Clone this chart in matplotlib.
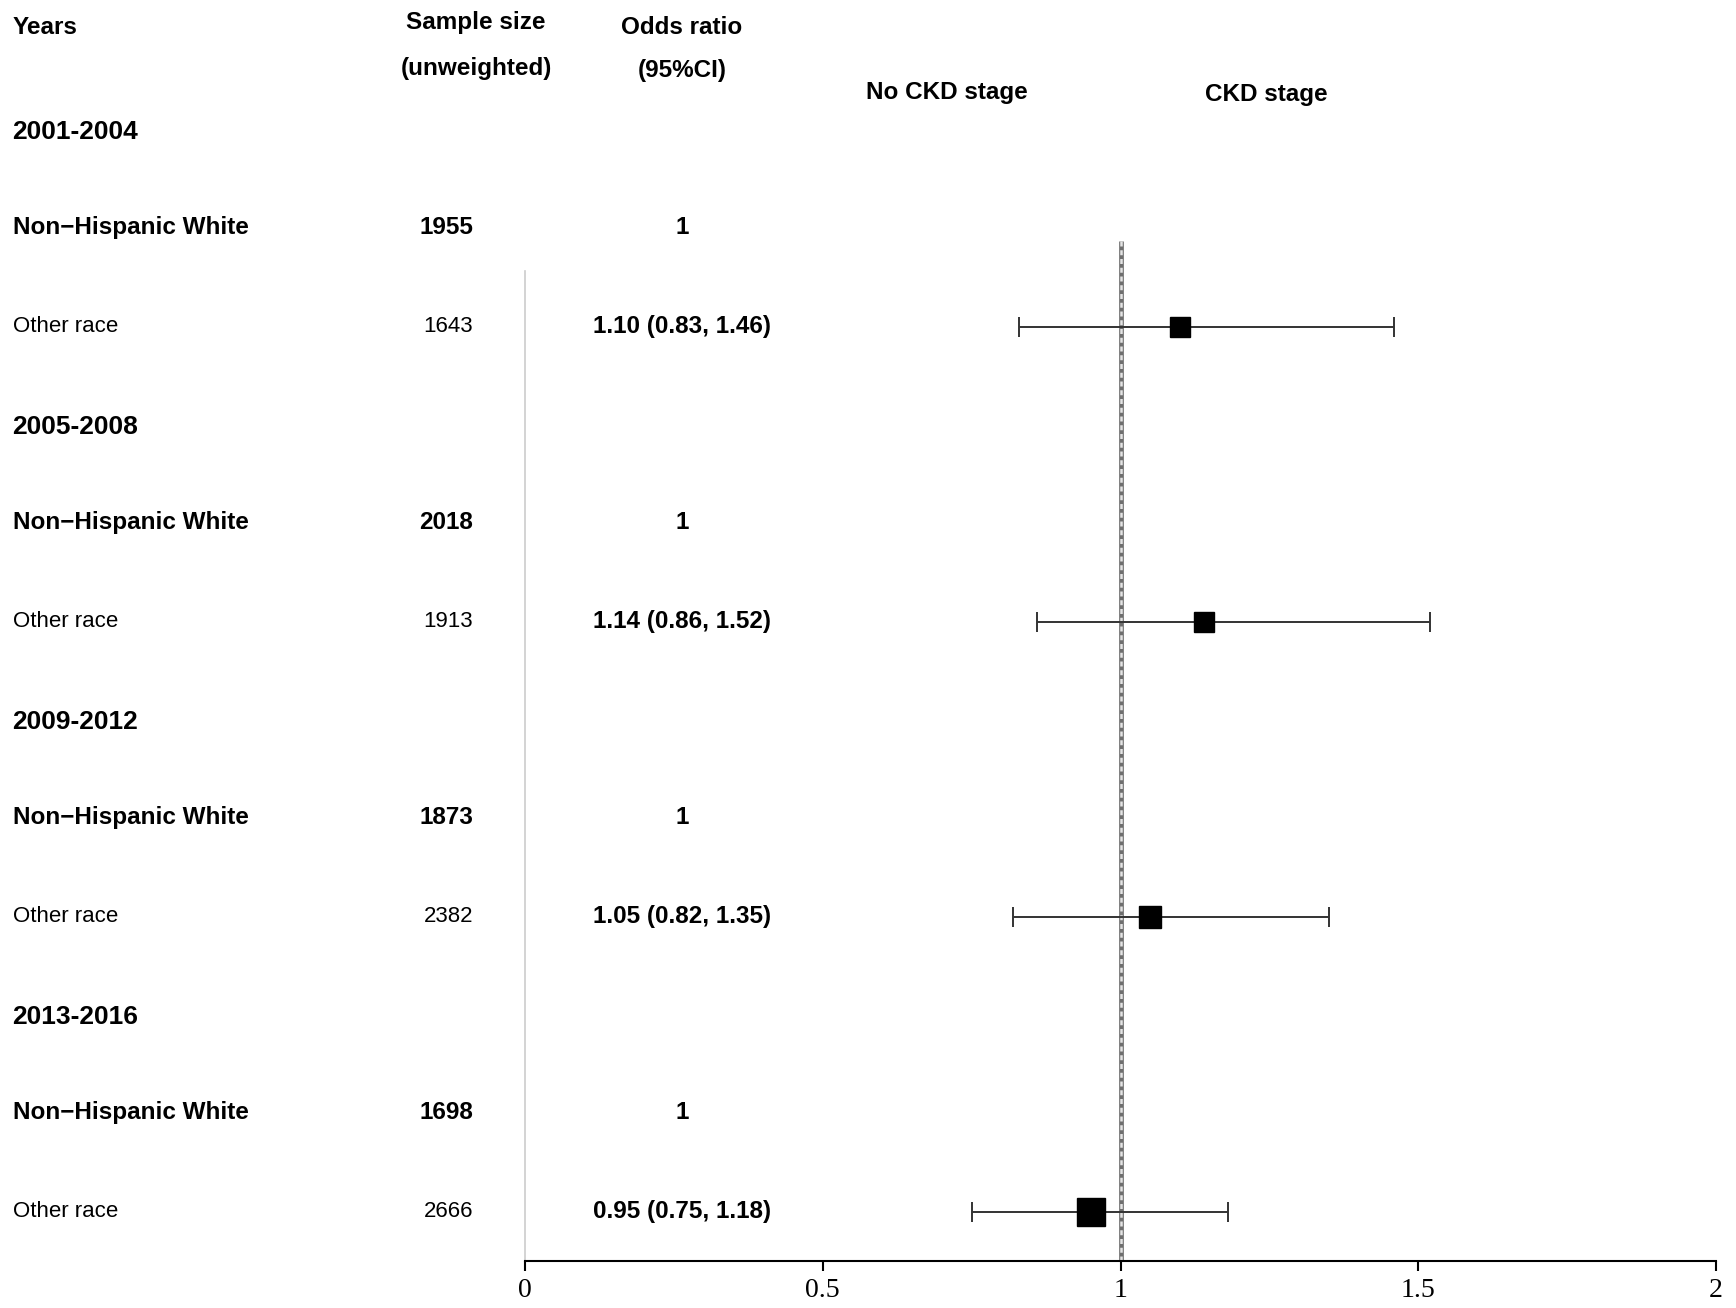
import matplotlib
matplotlib.use("Agg")
import matplotlib.pyplot as plt
import matplotlib.transforms as mtransforms

# ---------------- data ----------------
periods = ["2001-2004", "2005-2008", "2009-2012", "2013-2016"]
ref_label = "Non\u2212Hispanic White"
cmp_label = "Other race"
n_white = [1955, 2018, 1873, 1698]
n_other = [1643, 1913, 2382, 2666]
or_est = [1.10, 1.14, 1.05, 0.95]
or_low = [0.83, 0.86, 0.82, 0.75]
or_high = [1.46, 1.52, 1.35, 1.18]
x_ticks = [0, 0.5, 1, 1.5, 2]
x_tick_labels = ["0", "0.5", "1", "1.5", "2"]

# ---------------- style ----------------
W, H, DPI = 1736, 1308, 100
box_px = [20, 20, 23, 27]
FS_B = 17.5
FS_Y = 19
FS_R = 16
FONT = ["Liberation Sans", "DejaVu Sans"]
plt.rcParams["font.family"] = FONT

fig = plt.figure(figsize=(W / DPI, H / DPI), dpi=DPI)

x0_px, x1_px = 525, 1716
axis_px = 1261
row0_px, row_step = 130.4, 98.3
ytop = (0 - row0_px) / row_step
ybot = (axis_px - row0_px) / row_step

ax = fig.add_axes([x0_px / W, (H - axis_px) / H, (x1_px - x0_px) / W, axis_px / H])
ax.set_xlim(0, 2)
ax.set_ylim(ybot, ytop)
for s in ["top", "right", "left"]:
    ax.spines[s].set_visible(False)
ax.spines["bottom"].set_linewidth(1.5)
ax.set_yticks([])
ax.set_xticks(x_ticks)
ax.set_xticklabels(x_tick_labels, fontfamily="Liberation Serif", fontsize=20)
ax.tick_params(axis="x", length=7, width=1.5, pad=5)
ax.patch.set_alpha(0)


def px_x(px):
    return px / W


# blended transform: x in figure fraction, y in row units
tr = mtransforms.blended_transform_factory(fig.transFigure, ax.transData)

# vertical lines
ax.plot([0, 0], [1.43, ybot], color="#cccccc", lw=1.2, clip_on=False, zorder=1)
ax.plot([1, 1], [1.125, ybot], color="#6e6e6e", lw=3.4, clip_on=False, zorder=1,
        solid_capstyle="butt")
ax.plot([1, 1], [1.125, ybot], color="#e4e4e4", lw=1.8, clip_on=False, zorder=1,
        linestyle=(0, (2, 1.5)))


def ftxt(x, y, s, **kw):
    fig.text(x / W, 1 - y / H, s, va="center", **kw)


ftxt(13, 27, "Years", ha="left", fontsize=FS_B, fontweight="bold")
ftxt(476, 23, "Sample size", ha="center", fontsize=FS_B, fontweight="bold")
ftxt(476, 68, "(unweighted)", ha="center", fontsize=FS_B, fontweight="bold")
ftxt(682, 27, "Odds ratio", ha="center", fontsize=FS_B, fontweight="bold")
ftxt(682, 70, "(95%CI)", ha="center", fontsize=FS_B, fontweight="bold")
ftxt(947, 93, "No CKD stage", ha="center", fontsize=FS_B, fontweight="bold")
ftxt(1266, 94, "CKD stage", ha="center", fontsize=FS_B, fontweight="bold")

for i, p in enumerate(periods):
    r = 3 * i
    ax.text(px_x(12), r + 0.02, p, transform=tr, ha="left", va="center",
            fontsize=FS_Y, fontweight="bold")
    ax.text(px_x(13), r + 0.99, ref_label, transform=tr, ha="left", va="center",
            fontsize=FS_B, fontweight="bold")
    ax.text(px_x(473), r + 0.99, str(n_white[i]), transform=tr, ha="right", va="center",
            fontsize=FS_B, fontweight="bold")
    ax.text(px_x(682), r + 0.99, "1", transform=tr, ha="center", va="center",
            fontsize=FS_B, fontweight="bold")
    ax.text(px_x(13), r + 2, cmp_label, transform=tr, ha="left", va="center",
            fontsize=FS_R)
    ax.text(px_x(473), r + 2, str(n_other[i]), transform=tr, ha="right", va="center",
            fontsize=FS_R)
    ax.text(px_x(682), r + 2,
            f"{or_est[i]:.2f} ({or_low[i]:.2f}, {or_high[i]:.2f})",
            transform=tr, ha="center", va="center", fontsize=FS_B, fontweight="bold")

    y = r + 2
    ax.errorbar([or_est[i]], [y],
                xerr=[[or_est[i] - or_low[i]], [or_high[i] - or_est[i]]],
                fmt="none", ecolor="#333333", elinewidth=1.4, capsize=7.2,
                capthick=1.4, zorder=3)
    ax.plot([or_est[i]], [y], marker="s", color="black",
            markersize=box_px[i] * 72 / DPI, zorder=4)

fig.savefig("out.png", dpi=DPI)
